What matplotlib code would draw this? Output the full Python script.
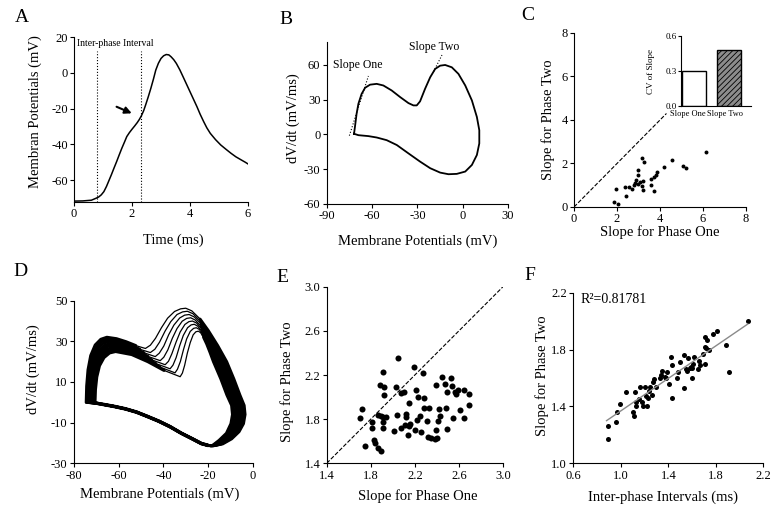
import matplotlib

matplotlib.use("Agg")
import matplotlib.pyplot as plt

plt.rcParams["font.family"] = ["Liberation Serif", "DejaVu Serif"]
plt.rcParams["axes.unicode_minus"] = False
plt.rcParams["hatch.linewidth"] = 0.6

W, H = 772, 509

# ---- A: action potential trace ----
a_time = [0, 0.3, 0.6, 0.76, 0.85, 0.94, 1.03, 1.12, 1.2, 1.29, 1.38, 1.47, 1.56, 1.65,
          1.74, 1.82, 1.91, 2.0, 2.09, 2.18, 2.25, 2.32, 2.4, 2.47, 2.56, 2.65, 2.74,
          2.82, 2.91, 3.0, 3.09, 3.18, 3.27, 3.35, 3.44, 3.53, 3.65, 3.76, 3.88, 4.0,
          4.12, 4.24, 4.35, 4.47, 4.58, 4.7, 4.88, 5.06, 5.24, 5.41, 5.58, 5.76, 5.9, 6.0]
a_vm = [-71.8, -71.7, -71.3, -70.2, -69.5, -68.3, -66.5, -63.6, -60.5, -57.0, -53.3,
        -49.7, -45.9, -42.2, -38.8, -35.7, -33.5, -31.6, -29.8, -27.9, -26.2, -24.2,
        -21.3, -18.0, -13.5, -8.7, -3.5, 1.5, 5.3, 8.0, 9.5, 10.2, 10.0, 8.9, 7.3, 5.2,
        1.6, -2.2, -6.4, -10.6, -14.8, -19.0, -23.2, -27.3, -30.8, -33.9, -37.4, -40.4,
        -42.8, -45.0, -47.0, -48.7, -50.0, -51.0]
a_interval = [0.8, 2.32]

# ---- B: phase plot of one spike ----
b_vm = [-71.9, -71.3, -70.2, -69.0, -66.9, -64.6, -61.3, -56.9, -52.5, -47.0, -41.4,
        -35.9, -32.6, -30.4, -28.2, -24.9, -21.5, -18.2, -14.9, -11.6, -7.2, -2.8, 1.7,
        6.1, 9.4, 11.0, 11.0, 9.4, 6.1, 1.7, -3.9, -9.4, -14.9, -21.5, -28.2, -35.9,
        -43.6, -50.3, -56.9, -62.4, -69.0, -71.9]
b_dvdt = [0.6, 6.6, 18.0, 26.6, 35.0, 40.3, 43.0, 43.7, 42.3, 38.0, 32.3, 27.1, 25.1,
          25.1, 28.6, 39.4, 49.4, 56.6, 59.4, 60.0, 58.0, 52.3, 42.3, 29.4, 15.1, 3.7,
          -7.7, -17.7, -26.3, -32.0, -34.0, -34.3, -32.9, -29.1, -23.4, -16.3, -9.1,
          -4.9, -2.6, -1.4, -0.6, 0.6]
b_slope_one_vm = [-75.0, -62.4]
b_slope_one_dv = [-1.0, 50.5]
b_slope_two_vm = [-19.3, -13.7]
b_slope_two_dv = [54.2, 68.6]

# ---- C: slopes of single cells + CV inset ----
c_phase_one = [1.86, 2.05, 1.97, 2.36, 2.56, 2.41, 2.72, 2.83, 2.90, 2.98, 3.06, 3.14,
               3.21, 2.98, 2.98, 3.18, 3.26, 3.21, 2.78, 3.60, 3.60, 3.73, 3.80, 3.88,
               3.73, 4.19, 4.57, 5.05, 5.20, 6.16]
c_phase_two = [0.23, 0.15, 0.82, 0.92, 0.92, 0.51, 0.85, 1.10, 1.23, 1.05, 1.15, 0.95,
               0.80, 1.46, 1.69, 2.23, 2.05, 1.20, 1.00, 1.00, 1.30, 1.38, 1.46, 1.62,
               0.72, 1.82, 2.15, 1.89, 1.80, 2.52]
c_unity_end = 4.3
c_cv_labels = ["Slope One", "Slope Two"]
c_cv_values = [0.30, 0.48]

# ---- D: phase plots of repeated spikes ----
d_trace_vm = [
    [-74.4, -74.2, -73.6, -72.4, -70.4, -67.9, -65.2, -60.9, -56.6, -52.3, -48.0, -45.8,
     -43.5, -40.8, -38.1, -35.0, -32.3, -30.0, -27.3, -23.6, -19.9, -15.7, -11.7, -8.5,
     -5.8, -3.9, -3.5, -4.2, -6.2, -9.5, -13.5, -17.5],
    [-73.8, -73.6, -73.0, -71.8, -69.8, -67.3, -64.6, -59.9, -55.2, -50.5, -45.8, -43.8,
     -41.7, -39.2, -36.7, -33.9, -31.4, -29.3, -26.8, -23.4, -20.1, -16.2, -12.5, -9.3,
     -6.6, -4.7, -4.3, -5.0, -7.0, -10.3, -14.3, -17.8],
    [-73.3, -73.1, -72.5, -71.3, -69.3, -66.8, -64.1, -59.0, -53.9, -48.7, -43.6, -41.8,
     -39.8, -37.6, -35.3, -32.7, -30.5, -28.5, -26.2, -23.2, -20.2, -16.7, -13.4, -10.2,
     -7.5, -5.5, -5.1, -5.8, -7.8, -11.1, -15.0, -18.1],
    [-72.7, -72.5, -71.9, -70.7, -68.7, -66.2, -63.5, -58.0, -52.5, -46.9, -41.4, -39.8,
     -38.0, -36.0, -33.9, -31.6, -29.6, -27.8, -25.8, -23.1, -20.4, -17.3, -14.3, -11.0,
     -8.3, -6.3, -5.9, -6.6, -8.6, -11.9, -15.7, -18.3],
    [-72.2, -72.0, -71.4, -70.2, -68.2, -65.7, -63.0, -57.1, -51.1, -45.2, -39.2, -37.7,
     -36.2, -34.3, -32.5, -30.4, -28.6, -27.0, -25.2, -22.8, -20.5, -17.7, -15.1, -11.9,
     -9.2, -7.1, -6.7, -7.4, -9.4, -12.7, -16.3, -18.5],
    [-71.6, -71.4, -70.8, -69.6, -67.6, -65.1, -62.4, -56.1, -49.7, -43.4, -37.0, -35.7,
     -34.3, -32.7, -31.1, -29.2, -27.6, -26.2, -24.7, -22.6, -20.6, -18.2, -16.0, -12.7,
     -10.0, -7.9, -7.5, -8.2, -10.2, -13.5, -16.9, -18.7],
    [-71.1, -70.9, -70.3, -69.1, -67.1, -64.6, -61.9, -55.1, -48.3, -41.6, -34.8, -33.7,
     -32.4, -31.0, -29.6, -28.0, -26.5, -25.3, -24.0, -22.4, -20.7, -18.7, -16.9, -13.6,
     -10.9, -8.8, -8.4, -9.1, -11.1, -14.4, -17.5, -18.9],
    [-70.5, -70.3, -69.7, -68.5, -66.5, -64.0, -61.3, -54.1, -46.9, -39.7, -32.5, -31.5,
     -30.5, -29.3, -28.0, -26.7, -25.5, -24.4, -23.4, -22.1, -20.7, -19.2, -17.7, -14.4,
     -11.7, -9.6, -9.2, -9.9, -11.9, -15.2, -18.0, -19.1],
]
d_trace_dvdt = [
    [0, 8.0, 16.0, 23.0, 28.2, 31.0, 32.0, 31.3, 29.8, 27.9, 26.5, 28.1, 31.5, 36.8, 41.4,
     44.7, 46.0, 46.3, 45.0, 41.0, 35.3, 27.9, 20.0, 11.5, 3.6, -1.5, -6.0, -10.5, -14.5,
     -18.0, -20.5, -21.4],
    [0, 7.8, 15.5, 22.3, 27.3, 30.1, 31.0, 30.2, 28.4, 26.1, 24.5, 26.1, 29.6, 35.1, 39.7,
     43.2, 44.5, 44.8, 43.6, 39.8, 34.4, 27.4, 20.0, 11.5, 3.6, -1.5, -6.0, -10.5, -14.6,
     -18.1, -20.6, -21.4],
    [0, 7.5, 15.0, 21.6, 26.4, 29.1, 30.0, 29.1, 27.0, 24.4, 22.5, 24.2, 27.7, 33.3, 38.0,
     41.5, 42.9, 43.2, 42.0, 38.6, 33.5, 27.0, 20.0, 11.5, 3.6, -1.5, -6.0, -10.5, -14.7,
     -18.2, -20.7, -21.4],
    [0, 7.3, 14.5, 20.9, 25.5, 28.1, 29.0, 28.0, 25.6, 22.6, 20.5, 22.2, 25.8, 31.5, 36.3,
     39.9, 41.3, 41.6, 40.5, 37.3, 32.5, 26.5, 20.0, 11.5, 3.6, -1.5, -6.0, -10.5, -14.8,
     -18.3, -20.8, -21.4],
    [0, 7.0, 14.0, 20.2, 24.6, 27.2, 28.0, 26.9, 24.2, 20.9, 18.5, 20.2, 23.9, 29.7, 34.6,
     38.3, 39.7, 40.0, 39.0, 36.0, 31.6, 26.0, 20.0, 11.5, 3.6, -1.5, -6.0, -10.5, -14.9,
     -18.4, -20.9, -21.4],
    [0, 6.8, 13.5, 19.4, 23.8, 26.2, 27.0, 25.7, 22.8, 19.1, 16.5, 18.3, 22.0, 27.9, 32.9,
     36.7, 38.1, 38.4, 37.5, 34.7, 30.7, 25.5, 20.0, 11.5, 3.6, -1.5, -6.0, -10.5, -15.0,
     -18.5, -21.0, -21.4],
    [0, 6.5, 13.0, 18.7, 22.9, 25.2, 26.0, 24.6, 21.4, 17.4, 14.5, 16.3, 20.1, 26.0, 31.2,
     34.9, 36.4, 36.7, 35.9, 33.4, 29.7, 25.0, 20.0, 11.5, 3.6, -1.5, -6.0, -10.5, -15.1,
     -18.6, -21.0, -21.4],
    [0, 6.3, 12.5, 18.0, 22.0, 24.3, 25.0, 23.5, 20.0, 15.7, 12.6, 14.4, 18.2, 24.2, 29.4,
     33.2, 34.7, 35.0, 34.3, 32.0, 28.7, 24.5, 20.0, 11.5, 3.6, -1.5, -6.0, -10.5, -15.2,
     -18.7, -21.1, -21.4],
]
d_low_vm = [-20.0, -23.0, -27.0, -32.0, -37.0, -42.0, -47.0, -52.0, -57.0, -62.0, -67.0]
d_low_dvdt = [-21.2, -20.3, -18.0, -15.2, -12.0, -9.3, -7.0, -4.8, -3.2, -2.0, -1.0]

# ---- E: slopes across repeated spikes ----
e_phase_one = [1.70, 1.72, 1.75, 1.81, 1.81, 1.83, 1.84, 1.87, 1.88, 1.87, 1.89, 1.89,
               1.91, 1.91, 1.91, 1.91, 1.92, 1.92, 1.94, 2.01, 2.03, 2.04, 2.05, 2.07,
               2.07, 2.10, 2.11, 2.12, 2.12, 2.14, 2.15, 2.15, 2.16, 2.19, 2.20, 2.21,
               2.22, 2.23, 2.25, 2.26, 2.27, 2.28, 2.28, 2.31, 2.32, 2.33, 2.35, 2.38,
               2.39, 2.39, 2.40, 2.41, 2.42, 2.43, 2.45, 2.47, 2.48, 2.49, 2.49, 2.53,
               2.54, 2.55, 2.56, 2.57, 2.59, 2.61, 2.65, 2.65, 2.69, 2.69]
e_phase_two = [1.81, 1.89, 1.56, 1.77, 1.72, 1.61, 1.58, 1.84, 2.11, 1.54, 1.51, 1.83,
               1.82, 1.72, 1.77, 2.23, 2.09, 2.02, 1.82, 1.69, 2.09, 1.84, 2.35, 2.04,
               1.72, 2.05, 1.75, 1.85, 1.82, 1.66, 1.95, 1.74, 1.76, 2.27, 1.70, 2.06,
               1.79, 2.00, 1.83, 1.68, 2.22, 1.90, 1.99, 1.78, 1.64, 1.90, 1.63, 1.62,
               1.70, 2.11, 1.63, 1.78, 1.89, 1.83, 2.18, 2.12, 1.90, 1.71, 2.05, 2.17,
               2.10, 1.81, 2.05, 2.03, 2.06, 1.88, 2.06, 1.81, 2.03, 1.93]

# ---- F: inter-phase interval vs phase-two slope ----
f_interval = [0.89, 0.89, 0.96, 0.97, 0.99, 1.04, 1.10, 1.11, 1.12, 1.13, 1.13, 1.15,
              1.16, 1.18, 1.19, 1.20, 1.21, 1.22, 1.23, 1.24, 1.25, 1.26, 1.27, 1.28,
              1.30, 1.33, 1.34, 1.35, 1.37, 1.38, 1.39, 1.41, 1.42, 1.43, 1.43, 1.47,
              1.48, 1.50, 1.53, 1.53, 1.55, 1.56, 1.57, 1.58, 1.59, 1.60, 1.60, 1.61,
              1.62, 1.65, 1.66, 1.67, 1.69, 1.71, 1.71, 1.71, 1.72, 1.73, 1.74, 1.78,
              1.81, 1.89, 1.91, 2.07]
f_phase_two = [1.26, 1.17, 1.29, 1.36, 1.42, 1.50, 1.36, 1.33, 1.50, 1.43, 1.40, 1.45,
               1.54, 1.43, 1.40, 1.54, 1.47, 1.40, 1.46, 1.51, 1.54, 1.48, 1.57, 1.59,
               1.54, 1.60, 1.62, 1.65, 1.61, 1.60, 1.64, 1.56, 1.75, 1.69, 1.46, 1.60,
               1.64, 1.71, 1.53, 1.76, 1.66, 1.65, 1.74, 1.67, 1.68, 1.67, 1.60, 1.70,
               1.75, 1.66, 1.72, 1.69, 1.77, 1.89, 1.82, 1.70, 1.81, 1.87, 1.80, 1.91,
               1.93, 1.83, 1.64, 2.00]
f_fit_x = [0.88, 2.07]
f_fit_y = [1.30, 1.98]
f_r2 = 0.81781


def _axes(fig, left, top, right, bottom):
    # pixel box -> figure fraction
    return fig.add_axes([left / W, 1 - bottom / H, (right - left) / W, (bottom - top) / H])


def _style(ax, xlim, ylim, xticks, yticks, fmt="{:g}", size=9):
    ax.set_xlim(xlim)
    ax.set_ylim(ylim)
    ax.set_xticks(xticks)
    ax.set_xticklabels([fmt.format(t) for t in xticks])
    ax.set_yticks(yticks)
    ax.set_yticklabels([fmt.format(t) for t in yticks])
    for side in ("top", "right"):
        ax.spines[side].set_visible(False)
    for side in ("left", "bottom"):
        ax.spines[side].set_linewidth(0.8)
    ax.tick_params(direction="out", length=3, width=0.8, labelsize=size, pad=1.5)
    ax.patch.set_alpha(0)


def _labels(fig, ax, xlabel, xpos, ylabel, ypos, size=10.5):
    ax.set_xlabel(xlabel, fontsize=size, va="center", ha="center")
    ax.xaxis.set_label_coords(xpos[0] / W, 1 - xpos[1] / H, transform=fig.transFigure)
    ax.set_ylabel(ylabel, fontsize=size, va="center", ha="center")
    ax.yaxis.set_label_coords(ypos[0] / W, 1 - ypos[1] / H, transform=fig.transFigure)


def main() -> None:
    fig = plt.figure(figsize=(W / 100, H / 100), dpi=100)

    # A
    ax = _axes(fig, 74, 37, 248, 202)
    ax.plot(a_time, a_vm, color="black", lw=1.1)
    ax.vlines(a_interval, -72.3, 12.3, colors="black", linestyles=":", lw=0.8)
    ax.text(0.09, 16.4, "Inter-phase Interval", fontsize=7, ha="left", va="center")
    ax.annotate("", xy=(2.08, -23.3), xytext=(1.38, -18.4),
                arrowprops=dict(arrowstyle="-|>", lw=1.5, color="black", mutation_scale=10))
    _style(ax, (0, 6), (-72.3, 20), [0, 2, 4, 6], [-60, -40, -20, 0, 20])
    _labels(fig, ax, "Time (ms)", (173, 240), "Membran Potentials (mV)", (35, 112))

    # B
    ax = _axes(fig, 326.7, 41.8, 508, 204)
    ax.plot(b_vm, b_dvdt, color="black", lw=1.3)
    ax.plot(b_slope_one_vm, b_slope_one_dv, color="black", ls=":", lw=0.8)
    ax.plot(b_slope_two_vm, b_slope_two_dv, color="black", ls=":", lw=0.8)
    ax.text(-69.2, 60, "Slope One", fontsize=8.5, ha="center", va="center")
    ax.text(-18.9, 75.7, "Slope Two", fontsize=8.5, ha="center", va="center")
    _style(ax, (-90, 30), (-60, 80), [-90, -60, -30, 0, 30], [-60, -30, 0, 30, 60])
    _labels(fig, ax, "Membrane Potentials (mV)", (418, 241), "dV/dt (mV/ms)", (293, 118))

    # C
    ax = _axes(fig, 574, 33, 746, 207)
    ax.plot([0, c_unity_end], [0, c_unity_end], color="black", ls="--", lw=0.8)
    ax.scatter(c_phase_one, c_phase_two, s=8, color="black", lw=0)
    _style(ax, (0, 8), (0, 8), [0, 2, 4, 6, 8], [0, 2, 4, 6, 8])
    _labels(fig, ax, "Slope for Phase One", (660, 232), "Slope for Phase Two", (548, 120))

    ins = _axes(fig, 680.7, 36, 750.7, 106)
    ins.bar([0, 1], c_cv_values, width=0.69, color=["white", "#8c8c8c"],
            edgecolor="black", lw=1.0, hatch=["", "//////"])
    _style(ins, (-0.37, 1.62), (0, 0.6), [0, 1], [0, 0.3, 0.6], fmt="{:.1f}", size=6.5)
    # labels sit a little left of the bar centres in the original
    ins.set_xticks([-0.17, 0.9])
    ins.set_xticklabels(c_cv_labels, fontsize=6)
    ins.tick_params(axis="x", length=0, pad=3)
    ins.tick_params(axis="y", length=2, pad=1)
    ins.patch.set_alpha(1)
    ins.patch.set_facecolor("white")
    ins.set_ylabel("CV of Slope", fontsize=6.5, va="center", ha="center")
    ins.yaxis.set_label_coords(651 / W, 1 - 71 / H, transform=fig.transFigure)

    # D: shared parts of the loop are a dense band, the phase-two humps are thin
    ax = _axes(fig, 73.7, 300.7, 253, 463.3)
    for vm, dv in zip(d_trace_vm, d_trace_dvdt):
        ax.plot(vm[:10], dv[:10], color="black", lw=2.2, solid_capstyle="round")
        ax.plot(vm[9:20], dv[9:20], color="black", lw=0.9)
        ax.plot(vm[19:] + d_low_vm + vm[:1], dv[19:] + d_low_dvdt + dv[:1],
                color="black", lw=2.0, solid_capstyle="round")
    ax.plot(d_low_vm, d_low_dvdt, color="black", lw=2.6, solid_capstyle="round")
    _style(ax, (-80, 0), (-30, 50), [-80, -60, -40, -20, 0], [-30, -10, 10, 30, 50])
    _labels(fig, ax, "Membrane Potentials (mV)", (160, 494), "dV/dt (mV/ms)", (33, 369))

    # E
    ax = _axes(fig, 326.7, 286.7, 503, 463.3)
    ax.plot([1.4, 3.0], [1.4, 3.0], color="black", ls="--", lw=0.8)
    ax.scatter(e_phase_one, e_phase_two, s=19, color="black", lw=0)
    ticks = [1.4, 1.8, 2.2, 2.6, 3.0]
    _style(ax, (1.4, 3.0), (1.4, 3.0), ticks, ticks, fmt="{:.1f}")
    _labels(fig, ax, "Slope for Phase One", (418, 496), "Slope for Phase Two", (287, 382))

    # F
    ax = _axes(fig, 573.3, 292.7, 763.3, 463.3)
    ax.plot(f_fit_x, f_fit_y, color="#8a8a8a", lw=1.0)
    ax.scatter(f_interval, f_phase_two, s=13, color="black", lw=0)
    ax.text(0.66, 2.15, f"R\u00b2={f_r2}", fontsize=10, ha="left", va="center")
    _style(ax, (0.6, 2.2), (1.0, 2.2), [0.6, 1.0, 1.4, 1.8, 2.2], [1.0, 1.4, 1.8, 2.2],
           fmt="{:.1f}")
    _labels(fig, ax, "Inter-phase Intervals (ms)", (663, 497), "Slope for Phase Two",
            (542, 376))

    for letter, (px, py) in zip("ABCDEF", [(22, 18), (286, 20), (528, 15),
                                          (20, 272), (282, 277), (530, 275)]):
        fig.text(px / W, 1 - py / H, letter, fontsize=14, ha="center", va="center")

    fig.savefig("out.png", dpi=100)
    plt.close(fig)


if __name__ == "__main__":
    main()
